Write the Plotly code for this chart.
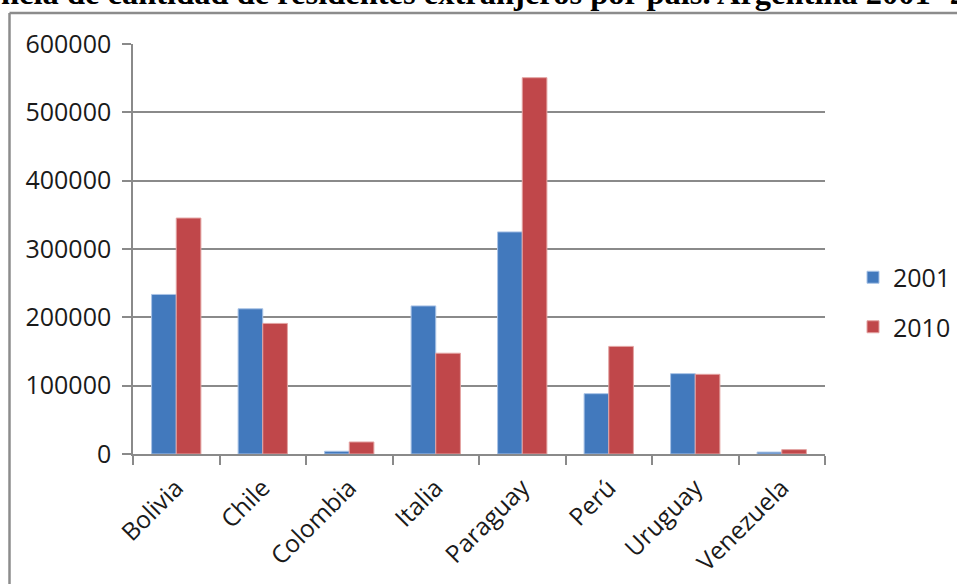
import plotly.graph_objects as go

paises = ["Bolivia", "Chile", "Colombia", "Italia", "Paraguay", "Perú", "Uruguay", "Venezuela"]
v2001 = [233500, 212500, 4000, 216700, 325000, 88300, 117600, 2800]
v2010 = [345300, 191100, 17600, 147500, 550700, 157500, 116600, 6400]
titulo = "ncia de cantidad de residentes extranjeros por país. Argentina 2001- 20"

W, H = 957, 584
L, R, T, B = 133, 825, 44, 454
pw, ph = R - L, B - T

def px(x):
    return (x - L) / pw

def py(y):
    return (B - y) / ph

fig = go.Figure()
fig.add_trace(go.Bar(name="2001", x=paises, y=v2001, marker=dict(color="#4279BD", line=dict(color="#A9C3E6", width=1)), legendgroup="a"))
fig.add_trace(go.Bar(name="2010", x=paises, y=v2010, marker=dict(color="#C0474A", line=dict(color="#E3A3A2", width=1)), legendgroup="b"))

grid = "#8A8A8A"
fig.update_layout(
    width=W, height=H,
    margin=dict(l=L, r=W - R, t=T, b=H - B, autoexpand=False),
    paper_bgcolor="white", plot_bgcolor="white",
    barmode="group", bargap=0.43, bargroupgap=0,
    font=dict(family="Open Sans", size=25, color="#1a1a1a"),
    showlegend=True,
    legend=dict(x=px(853), xanchor="left", y=py(302), yanchor="middle",
                font=dict(family="Open Sans", size=25, color="#1a1a1a"),
                tracegroupgap=14, bgcolor="rgba(0,0,0,0)"),
    xaxis=dict(type="category", showline=True, linecolor=grid, linewidth=1.5,
               ticks="outside", ticklen=9, tickcolor=grid, tickwidth=1.5,
               tickson="boundaries", tickangle=-45, showgrid=False,
               tickfont=dict(size=24.5), ticklabelstandoff=8),
    yaxis=dict(range=[0, 600000], dtick=100000, tickformat="d",
               showline=True, linecolor=grid, linewidth=1.5,
               ticks="outside", ticklen=9, tickcolor=grid, tickwidth=1.5,
               showgrid=True, gridcolor=grid, gridwidth=1.5, zeroline=False,
               ticklabelstandoff=6),
)

fig.add_shape(type="line", xref="paper", yref="paper", x0=px(9.5), x1=px(990), y0=py(13), y1=py(13),
              line=dict(color="#8C8C8C", width=2.5))
fig.add_shape(type="line", xref="paper", yref="paper", x0=px(9.5), x1=px(9.5), y0=py(13), y1=py(620),
              line=dict(color="#8C8C8C", width=2.5))

fig.add_annotation(text="<b>" + titulo + "</b>", xref="paper", yref="paper",
                   x=px(-1), xanchor="left", y=py(13), yanchor="bottom", showarrow=False,
                   font=dict(family="Liberation Serif", size=32.5, color="black"))

fig.write_html("out.html", config={"displayModeBar": False},
               post_script="document.body.style.margin='0';document.body.style.overflow='hidden';")
